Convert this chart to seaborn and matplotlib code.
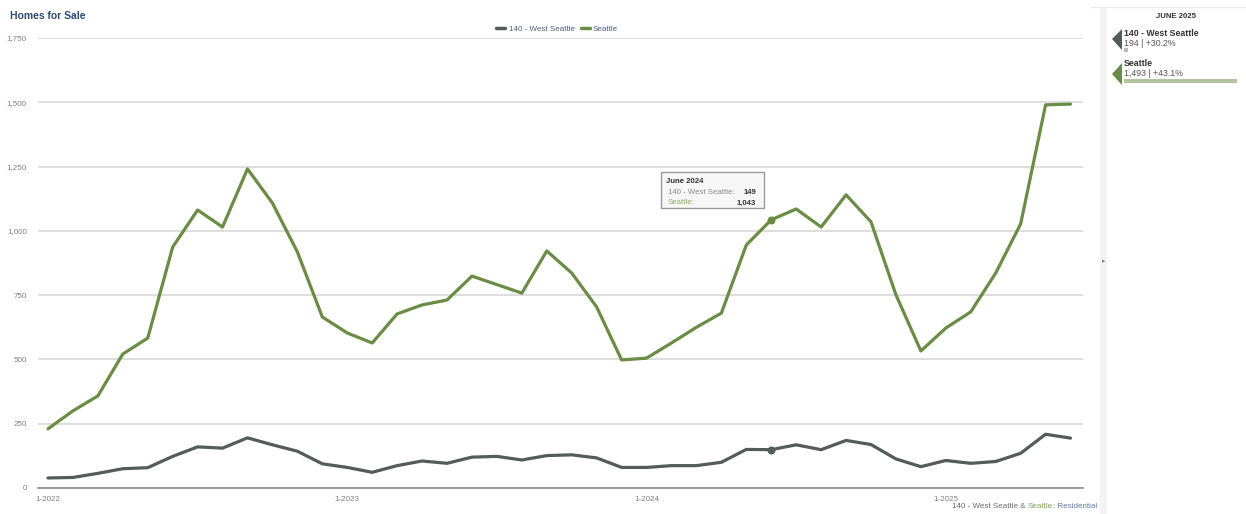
import numpy as np
import pandas as pd
import matplotlib
matplotlib.use("Agg")
import matplotlib.pyplot as plt
import seaborn as sns
from matplotlib.patches import Rectangle, Polygon
from matplotlib.lines import Line2D

# ---------------- data ----------------
months = list(range(42))  # Jan 2022 .. Jun 2025
tick_positions = [0, 12, 24, 36]
tick_labels = ["1-2022", "1-2023", "1-2024", "1-2025"]
y_ticks = [0, 250, 500, 750, 1000, 1250, 1500, 1750]

west_seattle = [39, 41, 57, 75, 79, 123, 160, 155, 195, 168, 143, 94,
                80, 61, 87, 105, 96, 120, 123, 109, 126, 129, 117, 80,
                80, 87, 87, 100, 150, 149, 168, 149, 185, 169, 113, 83,
                107, 96, 103, 135, 209, 194]
seattle = [230, 300, 358, 521, 583, 937, 1081, 1015, 1241, 1108, 918, 665,
           603, 564, 677, 712, 731, 824, 791, 758, 922, 836, 704, 498,
           505, 564, 625, 680, 945, 1043, 1085, 1015, 1140, 1035, 751, 533,
           622, 685, 836, 1027, 1490, 1493]
series_names = ["140 - West Seattle", "Seattle"]
hover_idx = 29
hover_label = "June 2024"
panel_title = "JUNE 2025"
panel_values = ["194 | +30.2%", "1,493 | +43.1%"]

GREEN = "#6a8c45"
GRAY = "#535c5b"
W, H = 1246, 514

df = pd.DataFrame({
    "month": months * 2,
    "value": west_seattle + seattle,
    "series": [series_names[0]] * len(months) + [series_names[1]] * len(months),
})

sns.set_theme(style="white")
plt.rcParams["font.family"] = ["Liberation Sans", "DejaVu Sans"]

fig = plt.figure(figsize=(W / 100, H / 100), dpi=100)
fig.patch.set_facecolor("white")

def fx(x):
    return x / W

def fy(y):
    return 1 - y / H

ax = fig.add_axes([fx(38), fy(488), fx(1083) - fx(38), fy(38) - fy(488)])
ax.set_facecolor("white")

sns.lineplot(data=df, x="month", y="value", hue="series",
             palette={series_names[0]: GRAY, series_names[1]: GREEN},
             linewidth=2.3, legend=False, ax=ax, zorder=3)

# hover markers
ax.scatter([months[hover_idx]], [west_seattle[hover_idx]], s=22, color=GRAY, zorder=4)
ax.scatter([months[hover_idx]], [seattle[hover_idx]], s=22, color=GREEN, zorder=4)

ax.set_xlim(-0.4, 41.5)
ax.set_ylim(0, 1750)
ax.set_yticks(y_ticks)
ax.set_yticklabels([f"{v:,}" for v in y_ticks], fontsize=5.8, color="#808080")
ax.set_xticks(tick_positions)
ax.set_xticklabels(tick_labels, fontsize=5.8, color="#808080")
ax.yaxis.grid(True, color="#dedede", linewidth=1.4)
ax.xaxis.grid(False)
for s in ["top", "right", "left"]:
    ax.spines[s].set_visible(False)
ax.spines["bottom"].set_color("#8a8a8a")
ax.spines["bottom"].set_linewidth(1.2)
ax.tick_params(axis="y", length=0, pad=8)
ax.tick_params(axis="x", length=3, width=1, color="#8a8a8a", pad=2.5, direction="out")
ax.set_xlabel("")
ax.set_ylabel("")

# legend
handles = [Line2D([0], [0], color=GRAY, lw=2.5), Line2D([0], [0], color=GREEN, lw=2.5)]
leg = ax.legend(handles, series_names, loc="lower center", bbox_to_anchor=(0.497, 1.005),
                ncol=2, frameon=False, fontsize=5.8, handlelength=1.1, handletextpad=0.4,
                columnspacing=0.8, borderaxespad=0)
for t in leg.get_texts():
    t.set_color("#4a5f80")

# title
fig.text(fx(10), fy(16), "Homes for Sale", fontsize=7.5, fontweight="bold",
         color="#2c4a6e", va="center", ha="left")

# tooltip
fig.patches.append(Rectangle((fx(661), fy(208)), fx(764) - fx(661), fy(172) - fy(208),
                             transform=fig.transFigure, facecolor="#f7f7f7",
                             edgecolor="#9a9a9a", linewidth=1.0, zorder=5))
fig.text(fx(666), fy(181), hover_label, fontsize=5.6, fontweight="bold", color="#333333",
         va="center", ha="left", zorder=6)
fig.text(fx(668), fy(192), series_names[0] + ":", fontsize=5.6, color="#888888",
         va="center", ha="left", zorder=6)
fig.text(fx(756), fy(192), f"{west_seattle[hover_idx]:,}", fontsize=5.6, fontweight="bold",
         color="#333333", va="center", ha="right", zorder=6)
fig.text(fx(668), fy(203), series_names[1] + ":", fontsize=5.6, color="#8aaa66",
         va="center", ha="left", zorder=6)
fig.text(fx(756), fy(203), f"{seattle[hover_idx]:,}", fontsize=5.6, fontweight="bold",
         color="#333333", va="center", ha="right", zorder=6)

# right panel
fig.patches.append(Rectangle((fx(1100), fy(514)), fx(7), fy(8) - fy(514),
                             transform=fig.transFigure, facecolor="#f3f3f3",
                             edgecolor="none", zorder=1))
fig.lines.append(Line2D([fx(1090), fx(1246)], [fy(7), fy(7)], transform=fig.transFigure,
                        color="#eeeeee", lw=1))
fig.text(fx(1103.5), fy(262), "▸", fontsize=5, color="#888888", ha="center", va="center")
fig.text(fx(1176), fy(17), panel_title, fontsize=5.6, fontweight="bold", color="#333333",
         ha="center", va="center")

fig.patches.append(Polygon([(fx(1112), fy(39)), (fx(1122), fy(29)), (fx(1122), fy(50))],
                           closed=True, transform=fig.transFigure, facecolor=GRAY,
                           edgecolor="none"))
fig.text(fx(1124), fy(33), series_names[0], fontsize=6.3, fontweight="bold", color="#333333",
         ha="left", va="center")
fig.text(fx(1124), fy(43), panel_values[0], fontsize=6.3, color="#555555",
         ha="left", va="center")
fig.patches.append(Rectangle((fx(1124), fy(51.5)), fx(3.5), fy(48) - fy(51.5),
                             transform=fig.transFigure, facecolor="#b8bcbc", edgecolor="none"))

fig.patches.append(Polygon([(fx(1112), fy(74)), (fx(1122), fy(63)), (fx(1122), fy(85))],
                           closed=True, transform=fig.transFigure, facecolor=GREEN,
                           edgecolor="none"))
fig.text(fx(1124), fy(64), series_names[1], fontsize=6.3, fontweight="bold", color="#333333",
         ha="left", va="center")
fig.text(fx(1124), fy(74), panel_values[1], fontsize=6.3, color="#555555",
         ha="left", va="center")
fig.patches.append(Rectangle((fx(1124), fy(83)), fx(1237 - 1124), fy(78.5) - fy(83),
                             transform=fig.transFigure, facecolor="#b3c4a0", edgecolor="none"))

# caption, multi-colored
parts = [("140 - West Seattle", "#6a6a6a"), ("\u00a0&\u00a0", "#5a78a8"), ("Seattle", "#82a05e"),
         (":\u00a0Residential", "#5a78a8")]
fig.canvas.draw()
renderer = fig.canvas.get_renderer()
texts = []
for s, c in parts:
    texts.append(fig.text(0, fy(507), s, fontsize=5.8, color=c, ha="left", va="center"))
widths = [t.get_window_extent(renderer).width for t in texts]
x = 1097 - sum(widths)
for t, w in zip(texts, widths):
    t.set_x(fx(x))
    x += w

fig.savefig("out.png", dpi=100, facecolor="white")
